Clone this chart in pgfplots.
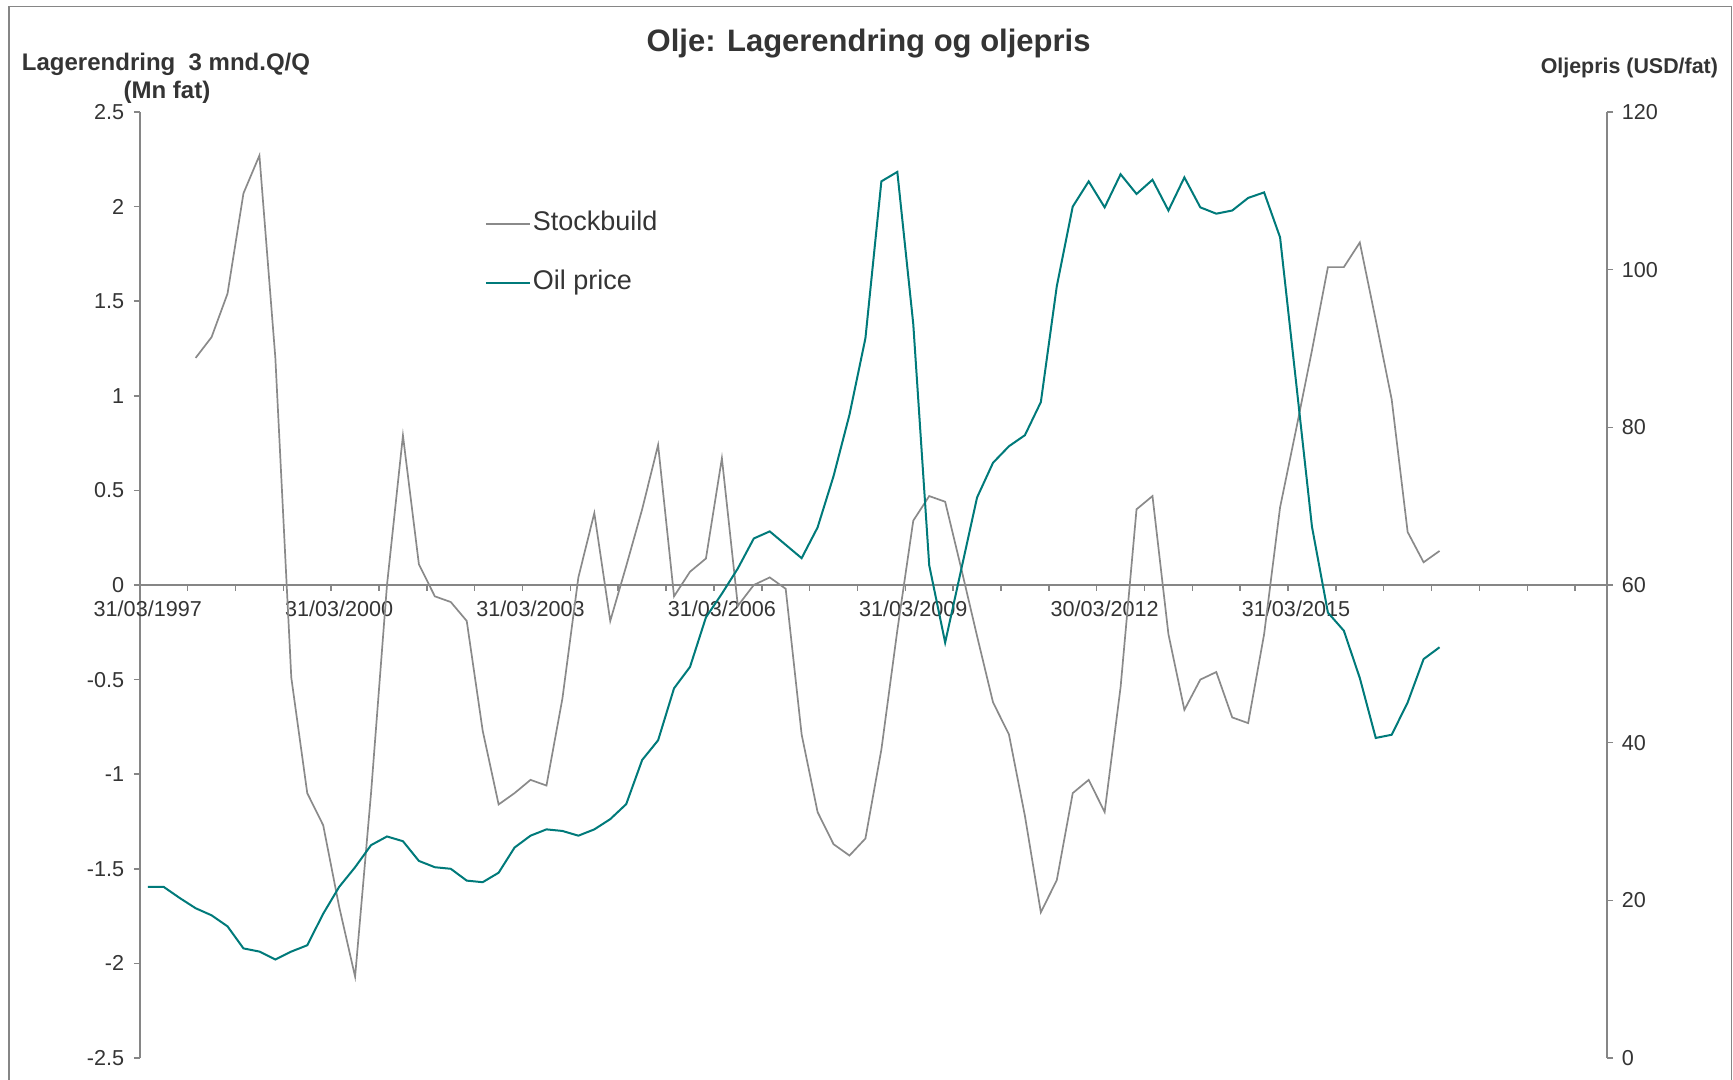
\documentclass[border=0pt]{standalone}
\usepackage{fontspec}
\setmainfont{Liberation Sans}
\usepackage{pgfplots}
\pgfplotsset{compat=1.18}
\usepackage{pgfplotstable}
\definecolor{sgray}{RGB}{138,138,138}
\definecolor{oilc}{RGB}{0,122,122}
\definecolor{axgray}{RGB}{134,134,134}
\definecolor{txt}{RGB}{52,52,52}

\pgfplotstableread{
x y
3.5 1.20
4.5 1.31
5.5 1.54
6.5 2.07
7.5 2.27
8.5 1.20
9.5 -0.49
10.5 -1.10
11.5 -1.27
12.5 -1.70
13.5 -2.07
14.5 -1.10
15.5 0.00
16.5 0.79
17.5 0.11
18.5 -0.06
19.5 -0.09
20.5 -0.19
21.5 -0.77
22.5 -1.16
23.5 -1.10
24.5 -1.03
25.5 -1.06
26.5 -0.60
27.5 0.04
28.5 0.38
29.5 -0.19
30.5 0.10
31.5 0.40
32.5 0.74
33.5 -0.06
34.5 0.07
35.5 0.14
36.5 0.67
37.5 -0.11
38.5 0.00
39.5 0.04
40.5 -0.02
41.5 -0.79
42.5 -1.20
43.5 -1.37
44.5 -1.43
45.5 -1.34
46.5 -0.87
47.5 -0.24
48.5 0.34
49.5 0.47
50.5 0.44
51.5 0.09
52.5 -0.27
53.5 -0.62
54.5 -0.79
55.5 -1.22
56.5 -1.73
57.5 -1.56
58.5 -1.10
59.5 -1.03
60.5 -1.20
61.5 -0.54
62.5 0.40
63.5 0.47
64.5 -0.26
65.5 -0.66
66.5 -0.50
67.5 -0.46
68.5 -0.70
69.5 -0.73
70.5 -0.26
71.5 0.41
72.5 0.82
73.5 1.24
74.5 1.68
75.5 1.68
76.5 1.81
77.5 1.40
78.5 0.98
79.5 0.28
80.5 0.12
81.5 0.18
}\stock

\pgfplotstableread{
x y
0.5 21.7
1.5 21.7
2.5 20.3
3.5 19.0
4.5 18.1
5.5 16.7
6.5 13.9
7.5 13.5
8.5 12.5
9.5 13.5
10.5 14.3
11.5 18.3
12.5 21.7
13.5 24.2
14.5 27.0
15.5 28.1
16.5 27.5
17.5 25.0
18.5 24.2
19.5 24.0
20.5 22.5
21.5 22.3
22.5 23.5
23.5 26.7
24.5 28.2
25.5 29.0
26.5 28.8
27.5 28.2
28.5 29.0
29.5 30.3
30.5 32.2
31.5 37.8
32.5 40.3
33.5 46.9
34.5 49.6
35.5 55.9
36.5 58.9
37.5 62.1
38.5 65.9
39.5 66.8
40.5 65.1
41.5 63.4
42.5 67.3
43.5 73.8
44.5 81.6
45.5 91.3
46.5 111.2
47.5 112.4
48.5 93.1
49.5 62.5
50.5 52.7
51.5 61.9
52.5 71.1
53.5 75.5
54.5 77.6
55.5 79.0
56.5 83.2
57.5 97.9
58.5 108.0
59.5 111.2
60.5 107.9
61.5 112.1
62.5 109.6
63.5 111.4
64.5 107.5
65.5 111.7
66.5 107.9
67.5 107.1
68.5 107.5
69.5 109.1
70.5 109.8
71.5 104.1
72.5 85.8
73.5 67.4
74.5 56.5
75.5 54.2
76.5 48.2
77.5 40.6
78.5 41.0
79.5 45.1
80.5 50.6
81.5 52.1
}\oil

\begin{document}
\begin{tikzpicture}
\path[use as bounding box] (0,0) rectangle (866.5pt,540pt);
\draw[axgray, line width=0.6pt] (4.5pt,-1pt) -- (4.5pt,536.7pt) -- (865.8pt,536.7pt) -- (865.8pt,-1pt);

\node[anchor=base, font=\bfseries\fontsize{15.5pt}{18pt}\selectfont, text=txt] at (434.3pt,514.2pt) {Olje: Lagerendring og oljepris};
\node[anchor=base, font=\bfseries\fontsize{12pt}{14pt}\selectfont, text=txt] at (83pt,504.7pt) {Lagerendring\ \ 3 mnd.Q/Q};
\node[anchor=base, font=\bfseries\fontsize{12pt}{14pt}\selectfont, text=txt] at (83.5pt,490.5pt) {(Mn fat)};
\node[anchor=base east, font=\bfseries\fontsize{10.7pt}{13pt}\selectfont, text=txt] at (862.5pt,503pt) {Oljepris (USD/fat)};

\begin{axis}[
 at={(69.9pt,11pt)}, anchor=south west, scale only axis,
 width=733.6pt, height=473pt,
 xmin=0, xmax=92, ymin=-2.5, ymax=2.5,
 axis x line=middle, axis y line=left,
 axis line style={-, axgray, line width=0.75pt},
 hide obscured x ticks=false, hide obscured y ticks=false,
 xtick={3,6,...,90}, xticklabels={},
 extra x ticks={0.5,12.5,24.5,36.5,48.5,60.5,72.5},
 extra x tick labels={31/03/1997,31/03/2000,31/03/2003,31/03/2006,31/03/2009,30/03/2012,31/03/2015},
 extra x tick style={major tick length=0pt, xticklabel style={yshift=-4.5pt}},
 ytick={-2.5,-2,-1.5,-1,-0.5,0,0.5,1,1.5,2,2.5},
 yticklabels={-2.5,-2,-1.5,-1,-0.5,0,0.5,1,1.5,2,2.5},
 tick align=outside, major tick length=3pt,
 tick style={axgray, line width=0.75pt},
 ticklabel style={font=\fontsize{10.8pt}{13pt}\selectfont, text=txt},
 yticklabel style={xshift=-1.3pt},
]
\addplot[sgray, line width=0.85pt] table[x=x,y=y]{\stock};
\end{axis}

\begin{axis}[
 at={(69.9pt,11pt)}, anchor=south west, scale only axis,
 width=733.6pt, height=473pt,
 xmin=0, xmax=92, ymin=0, ymax=120,
 axis x line=none, axis y line*=right,
 axis line style={-, axgray, line width=0.75pt},
 ytick={0,20,40,60,80,100,120},
 yticklabels={0,20,40,60,80,100,120},
 tick align=outside, major tick length=3pt,
 tick style={axgray, line width=0.75pt},
 ticklabel style={font=\fontsize{10.8pt}{13pt}\selectfont, text=txt},
 yticklabel style={xshift=0.9pt},
 legend style={at={(0.2349,0.898)}, anchor=north west, draw=none, fill=none,
   font=\fontsize{13.5pt}{16pt}\selectfont, text=txt, inner sep=0pt, row sep=14.5pt,
   nodes={inner sep=1pt, text height=10pt, text depth=3pt}},
 legend cell align=left,
 legend image code/.code={\draw[#1] (0pt,0pt) -- (22pt,0pt);},
]
\addlegendimage{sgray, line width=0.85pt}
\addlegendentry{Stockbuild}
\addplot[oilc, line width=1pt] table[x=x,y=y]{\oil};
\addlegendentry{Oil price}
\end{axis}
\end{tikzpicture}
\end{document}
